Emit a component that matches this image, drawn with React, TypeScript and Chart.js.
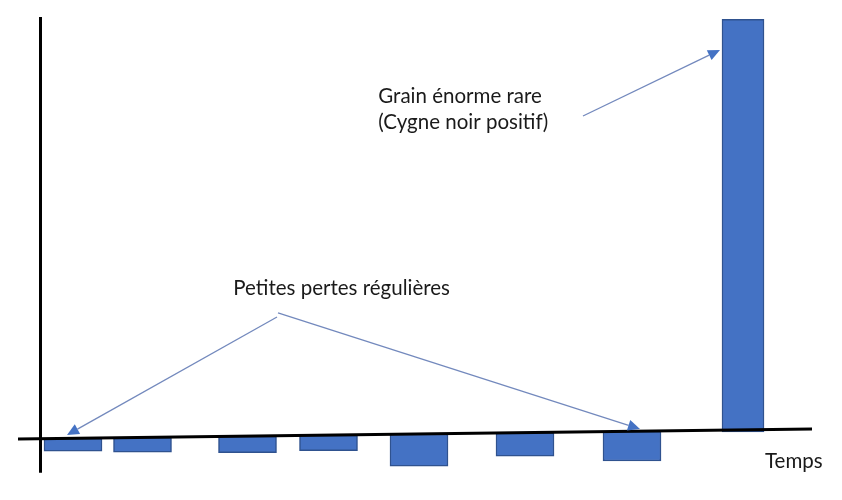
import React, { useEffect, useRef } from "react";
import { Chart, registerables } from "chart.js";

Chart.register(...registerables);

// Time positions (arbitrary time units, 0 = vertical axis)
const lossTimes = [3.25, 10.2, 20.7, 28.8, 37.85, 48.45, 59.15];
// Size of each small regular loss (below the time axis)
const losses = [3.1, 3.6, 4.0, 3.8, 7.8, 5.7, 7.2];
// Rare huge gain
const gainTimes = [70.25];
const gains = [99.5];

// Time axis (slightly tilted hand-drawn line): [time, value]
const timeAxisStart = [-2.25, -0.07];
const timeAxisEnd = [77.15, 2.35];
// Vertical axis: [time, bottom value, top value]
const valueAxis = [0, -8.24, 102.2];

// Annotation texts: [text, time, value]
const labelTexts = ["Grain énorme rare", "(Cygne noir positif)", "Petites pertes régulières", "Temps"];
const labelTimes = [33.78, 33.78, 19.28, 72.45];
const labelValues = [81.27, 75.0, 34.82, -7.17];

// Arrows: from [time, value] to [time, value]
const arrowFrom = [
  [54.25, 78.2],
  [23.65, 29.5],
  [23.75, 30.5],
];
const arrowTo = [
  [67.95, 94.2],
  [2.65, 0.9],
  [59.95, 2.35],
];

const X_MIN = -4.05;
const X_MAX = 80.15;
const Y_MIN = -14.85;
const Y_MAX = 106.3;

function axisValueAt(t: number): number {
  const [t0, v0] = timeAxisStart;
  const [t1, v1] = timeAxisEnd;
  return v0 + ((v1 - v0) * (t - t0)) / (t1 - t0);
}

const annotationPlugin = {
  id: "annotations",
  afterDatasetsDraw(chart: any) {
    const ctx = chart.ctx as CanvasRenderingContext2D;
    const xs = chart.scales.x;
    const ys = chart.scales.y;
    ctx.save();
    // arrows
    for (let i = 0; i < arrowFrom.length; i++) {
      const x0 = xs.getPixelForValue(arrowFrom[i][0]);
      const y0 = ys.getPixelForValue(arrowFrom[i][1]);
      const x1 = xs.getPixelForValue(arrowTo[i][0]);
      const y1 = ys.getPixelForValue(arrowTo[i][1]);
      const ang = Math.atan2(y1 - y0, x1 - x0);
      const headLen = 12;
      const headHalf = 5.5;
      const bx = x1 - headLen * Math.cos(ang);
      const by = y1 - headLen * Math.sin(ang);
      ctx.strokeStyle = "#7389BD";
      ctx.lineWidth = 1.3;
      ctx.beginPath();
      ctx.moveTo(x0, y0);
      ctx.lineTo(bx, by);
      ctx.stroke();
      ctx.fillStyle = "#4472C4";
      ctx.beginPath();
      ctx.moveTo(x1, y1);
      ctx.lineTo(bx + headHalf * Math.sin(ang), by - headHalf * Math.cos(ang));
      ctx.lineTo(bx - headHalf * Math.sin(ang), by + headHalf * Math.cos(ang));
      ctx.closePath();
      ctx.fill();
    }
    // texts
    ctx.fillStyle = "#1a1a1a";
    ctx.font = '20.5px Lato, "Open Sans", sans-serif';
    ctx.textAlign = "left";
    ctx.textBaseline = "alphabetic";
    for (let i = 0; i < labelTexts.length; i++) {
      ctx.fillText(labelTexts[i], xs.getPixelForValue(labelTimes[i]), ys.getPixelForValue(labelValues[i]));
    }
    ctx.restore();
  },
};

export default function App() {
  const ref = useRef<HTMLCanvasElement>(null);

  useEffect(() => {
    if (!ref.current) return;
    const chart = new Chart(ref.current, {
      type: "bar",
      data: {
        datasets: [
          {
            type: "line",
            data: [
              { x: timeAxisStart[0], y: timeAxisStart[1] },
              { x: timeAxisEnd[0], y: timeAxisEnd[1] },
            ],
            borderColor: "#000000",
            borderWidth: 3,
            pointRadius: 0,
            tension: 0,
            order: 0,
          } as any,
          {
            type: "line",
            data: [
              { x: valueAxis[0], y: valueAxis[1] },
              { x: valueAxis[0], y: valueAxis[2] },
            ],
            borderColor: "#000000",
            borderWidth: 3,
            pointRadius: 0,
            tension: 0,
            order: 0,
          } as any,
          {
            type: "bar",
            data: lossTimes.map((t, i) => ({ x: t, y: [axisValueAt(t), axisValueAt(t) - losses[i]] })),
            backgroundColor: "#4472C4",
            borderColor: "#2F528F",
            borderWidth: 1.5,
            borderSkipped: false,
            barThickness: 58,
            grouped: false,
            order: 1,
          } as any,
          {
            type: "bar",
            data: gainTimes.map((t, i) => ({ x: t, y: [axisValueAt(t) - 0.5, axisValueAt(t) + gains[i]] })),
            backgroundColor: "#4472C4",
            borderColor: "#2F528F",
            borderWidth: 1.5,
            borderSkipped: false,
            barThickness: 42,
            grouped: false,
            order: 1,
          } as any,
        ],
      },
      options: {
        animation: false,
        responsive: true,
        maintainAspectRatio: false,
        events: [],
        layout: { padding: 0 },
        plugins: {
          legend: { display: false },
          tooltip: { enabled: false },
        },
        scales: {
          x: { type: "linear", min: X_MIN, max: X_MAX, display: false, offset: false },
          y: { type: "linear", min: Y_MIN, max: Y_MAX, display: false },
        },
      },
      plugins: [annotationPlugin],
    });
    return () => chart.destroy();
  }, []);

  return (
    <div style={{ position: "absolute", left: 0, top: 0, width: 842, height: 500, background: "#ffffff" }}>
      <canvas ref={ref} />
    </div>
  );
}
